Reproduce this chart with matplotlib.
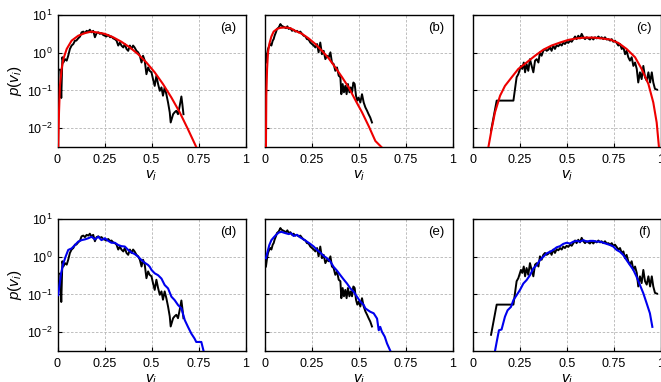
import numpy as np
import matplotlib
matplotlib.use("Agg")
import matplotlib.pyplot as plt
from matplotlib.ticker import LogLocator, NullLocator, FixedLocator

plt.rcParams['font.family'] = ['Liberation Sans', 'DejaVu Sans']
plt.rcParams['mathtext.fontset'] = 'custom'
plt.rcParams['mathtext.rm'] = 'Liberation Sans'
plt.rcParams['mathtext.it'] = 'Liberation Sans:italic'

# ---------------- data (log10 of p) ----------------
# empirical histogram, set A (panels a, d)
emp_a_v = [0.004, 0.015, 0.02, 0.026, 0.031, 0.04, 0.049, 0.057, 0.066, 0.075, 0.084, 0.093, 0.10, 0.11,
           0.12, 0.128, 0.137, 0.146, 0.155, 0.164, 0.172, 0.18, 0.19, 0.199, 0.208, 0.217, 0.225, 0.234,
           0.243, 0.252, 0.26, 0.27, 0.28, 0.287, 0.296, 0.305, 0.314, 0.323, 0.332, 0.34, 0.35, 0.358,
           0.367, 0.376, 0.385, 0.394, 0.402, 0.41, 0.42, 0.429, 0.438, 0.447, 0.455, 0.464, 0.473, 0.482,
           0.49, 0.50, 0.508, 0.517, 0.526, 0.535, 0.544, 0.553, 0.561, 0.57, 0.579, 0.588, 0.597, 0.602,
           0.615, 0.623, 0.632, 0.641, 0.65, 0.659, 0.664, 0.67]
emp_a_lp = [-0.45, -0.45, -1.2, -0.12, -0.26, -0.17, -0.21, -0.08, 0.10, 0.19, 0.23, 0.32, 0.32, 0.38,
            0.43, 0.54, 0.56, 0.52, 0.58, 0.56, 0.61, 0.54, 0.58, 0.41, 0.52, 0.54, 0.50, 0.52,
            0.47, 0.45, 0.43, 0.47, 0.41, 0.43, 0.38, 0.36, 0.32, 0.19, 0.27, 0.19, 0.14, 0.23,
            0.10, 0.05, 0.19, 0.10, 0.19, 0.14, 0.05, 0.01, -0.08, -0.26, -0.08, -0.21, -0.57, -0.39,
            -0.48, -0.52, -0.70, -0.88, -0.61, -0.83, -1.01, -0.92, -1.14, -0.92, -1.10, -1.32, -1.58, -1.85,
            -1.63, -1.58, -1.54, -1.63, -1.41, -1.16, -1.36, -1.63]

# empirical histogram, set B (panels b, e)
emp_b_v = [0.005, 0.011, 0.016, 0.023, 0.028, 0.034, 0.041, 0.046, 0.051, 0.058, 0.064, 0.073, 0.082, 0.087,
           0.094, 0.105, 0.112, 0.119, 0.126, 0.135, 0.144, 0.152, 0.161, 0.17, 0.179, 0.188, 0.197, 0.206,
           0.215, 0.223, 0.232, 0.241, 0.25, 0.259, 0.268, 0.277, 0.285, 0.294, 0.303, 0.312, 0.321, 0.33,
           0.339, 0.348, 0.356, 0.365, 0.374, 0.383, 0.392, 0.401, 0.406, 0.413, 0.42, 0.427, 0.434, 0.441,
           0.449, 0.456, 0.463, 0.47, 0.477, 0.484, 0.491, 0.498, 0.507, 0.516, 0.525, 0.534, 0.543, 0.551,
           0.56, 0.569]
emp_b_lp = [-0.26, -0.04, 0.10, 0.19, 0.23, 0.19, 0.32, 0.36, 0.45, 0.54, 0.63, 0.67, 0.76, 0.72,
            0.70, 0.67, 0.65, 0.70, 0.63, 0.65, 0.58, 0.61, 0.56, 0.58, 0.54, 0.56, 0.50, 0.45,
            0.43, 0.36, 0.35, 0.27, 0.23, 0.19, 0.14, 0.23, 0.01, 0.27, -0.04, 0.05, -0.17, -0.08,
            -0.12, 0.01, -0.26, -0.30, -0.48, -0.39, -0.61, -0.65, -1.10, -0.83, -1.05, -0.88, -1.10, -0.83,
            -1.05, -0.92, -1.05, -0.79, -0.83, -1.14, -1.27, -1.19, -1.32, -1.10, -1.32, -1.45, -1.54, -1.63,
            -1.72, -1.85]

# empirical histogram, set C (panels c, f)
emp_c_v = [0.096, 0.126, 0.215, 0.232, 0.241, 0.255, 0.262, 0.27, 0.277, 0.285, 0.294, 0.303, 0.312, 0.321,
           0.33, 0.339, 0.348, 0.356, 0.365, 0.374, 0.383, 0.392, 0.401, 0.41, 0.418, 0.427, 0.436, 0.445,
           0.454, 0.463, 0.472, 0.48, 0.489, 0.498, 0.507, 0.516, 0.525, 0.534, 0.543, 0.551, 0.56, 0.569,
           0.578, 0.587, 0.596, 0.605, 0.613, 0.622, 0.631, 0.64, 0.649, 0.658, 0.667, 0.676, 0.684, 0.693,
           0.702, 0.711, 0.72, 0.729, 0.738, 0.746, 0.755, 0.764, 0.773, 0.782, 0.791, 0.80, 0.809, 0.817,
           0.826, 0.835, 0.844, 0.853, 0.862, 0.871, 0.879, 0.888, 0.897, 0.906, 0.915, 0.924, 0.933, 0.942,
           0.951, 0.959, 0.968, 0.979]
emp_c_lp = [-2.07, -1.27, -1.27, -0.65, -0.57, -0.35, -0.43, -0.26, -0.52, -0.30, -0.48, -0.17, -0.35, -0.52,
            -0.21, -0.17, -0.26, 0.01, -0.08, 0.05, 0.10, 0.05, 0.08, 0.14, 0.05, 0.19, 0.10, 0.20,
            0.17, 0.23, 0.19, 0.27, 0.23, 0.29, 0.26, 0.32, 0.29, 0.36, 0.43, 0.36, 0.45, 0.38,
            0.50, 0.41, 0.36, 0.41, 0.38, 0.35, 0.41, 0.35, 0.41, 0.38, 0.43, 0.38, 0.41, 0.36,
            0.41, 0.35, 0.36, 0.32, 0.36, 0.29, 0.32, 0.26, 0.19, 0.23, 0.10, 0.14, -0.04, 0.05,
            -0.12, -0.21, -0.12, -0.35, -0.26, -0.43, -0.79, -0.52, -0.70, -0.35, -0.65, -0.74, -0.52, -0.79,
            -0.52, -0.79, -0.96, -0.98]

# fitted curves (red), panels a-c
fit_a_v = [0.004, 0.008, 0.013, 0.022, 0.031, 0.049, 0.075, 0.11, 0.146, 0.18, 0.208, 0.252, 0.296, 0.34,
           0.385, 0.429, 0.473, 0.517, 0.561, 0.606, 0.65, 0.694, 0.738]
fit_a_lp = [-2.5, -1.58, -0.88, -0.43, -0.17, 0.10, 0.32, 0.45, 0.52, 0.56, 0.54, 0.50, 0.41, 0.29,
            0.14, -0.04, -0.26, -0.52, -0.83, -1.19, -1.58, -2.03, -2.5]
fit_b_v = [0.005, 0.007, 0.011, 0.016, 0.023, 0.034, 0.046, 0.064, 0.082, 0.108, 0.135, 0.161, 0.197, 0.232,
           0.268, 0.303, 0.339, 0.374, 0.41, 0.445, 0.48, 0.516, 0.551, 0.587, 0.619]
fit_b_lp = [-2.5, -1.14, -0.43, 0.01, 0.23, 0.43, 0.56, 0.63, 0.66, 0.67, 0.65, 0.58, 0.50, 0.38,
            0.23, 0.05, -0.15, -0.39, -0.65, -0.92, -1.25, -1.58, -1.94, -2.34, -2.5]
fit_c_v = [0.082, 0.099, 0.117, 0.144, 0.17, 0.206, 0.241, 0.285, 0.33, 0.374, 0.418, 0.463, 0.507, 0.551,
           0.596, 0.64, 0.684, 0.729, 0.773, 0.817, 0.862, 0.897, 0.933, 0.959, 0.977, 0.989]
fit_c_lp = [-2.5, -2.03, -1.58, -1.14, -0.88, -0.65, -0.43, -0.26, -0.08, 0.08, 0.19, 0.27, 0.34, 0.38,
            0.40, 0.40, 0.38, 0.35, 0.26, 0.10, -0.12, -0.43, -0.83, -1.32, -1.85, -2.5]

# model curves (blue), panels d-f
mod_d_v = [0.004, 0.019, 0.031, 0.043, 0.057, 0.075, 0.093, 0.11, 0.128, 0.146, 0.164, 0.181, 0.199, 0.217,
           0.234, 0.252, 0.27, 0.287, 0.305, 0.323, 0.34, 0.358, 0.376, 0.394, 0.411, 0.429, 0.447, 0.464,
           0.482, 0.491, 0.50, 0.517, 0.535, 0.553, 0.57, 0.588, 0.606, 0.623, 0.641, 0.659, 0.677, 0.694,
           0.712, 0.729, 0.738, 0.756, 0.765, 0.777]
mod_d_lp = [-1.02, -0.44, -0.18, 0.0, 0.18, 0.22, 0.31, 0.40, 0.44, 0.46, 0.49, 0.53, 0.46, 0.53,
            0.44, 0.49, 0.42, 0.37, 0.37, 0.31, 0.28, 0.27, 0.18, 0.11, 0.07, 0.0, -0.09, -0.16,
            -0.22, -0.27, -0.35, -0.44, -0.49, -0.58, -0.75, -0.84, -1.06, -1.15, -1.28, -1.37, -1.68, -1.86,
            -2.04, -2.17, -2.26, -2.26, -2.26, -2.5]
mod_e_v = [0.005, 0.016, 0.023, 0.034, 0.046, 0.059, 0.073, 0.087, 0.099, 0.112, 0.126, 0.14, 0.152, 0.17,
           0.188, 0.206, 0.223, 0.241, 0.259, 0.277, 0.294, 0.312, 0.33, 0.348, 0.365, 0.383, 0.401, 0.418,
           0.436, 0.454, 0.472, 0.489, 0.507, 0.525, 0.534, 0.548, 0.56, 0.578, 0.596, 0.605, 0.613, 0.622,
           0.637, 0.649, 0.667]
mod_e_lp = [-0.04, 0.18, 0.31, 0.44, 0.51, 0.58, 0.64, 0.66, 0.64, 0.62, 0.60, 0.62, 0.55, 0.58,
            0.51, 0.46, 0.40, 0.34, 0.27, 0.18, 0.11, 0.02, -0.04, -0.13, -0.27, -0.37, -0.49, -0.60,
            -0.71, -0.84, -0.93, -1.06, -1.19, -1.28, -1.37, -1.42, -1.46, -1.50, -1.64, -1.95, -1.86, -1.99,
            -2.12, -2.30, -2.5]
mod_f_v = [0.117, 0.126, 0.138, 0.152, 0.17, 0.184, 0.202, 0.215, 0.232, 0.25, 0.268, 0.285, 0.303, 0.321,
           0.339, 0.356, 0.374, 0.392, 0.41, 0.427, 0.445, 0.463, 0.48, 0.498, 0.516, 0.534, 0.551, 0.569,
           0.587, 0.605, 0.622, 0.64, 0.658, 0.676, 0.693, 0.711, 0.729, 0.746, 0.764, 0.782, 0.80, 0.817,
           0.835, 0.853, 0.87, 0.888, 0.906, 0.924, 0.941, 0.954]
mod_f_lp = [-2.5, -2.26, -1.95, -1.93, -1.59, -1.42, -1.33, -1.15, -1.02, -0.88, -0.71, -0.62, -0.49, -0.31,
            -0.22, -0.09, 0.0, 0.09, 0.13, 0.18, 0.25, 0.28, 0.34, 0.37, 0.35, 0.40, 0.42, 0.40,
            0.44, 0.40, 0.42, 0.42, 0.40, 0.40, 0.37, 0.34, 0.31, 0.27, 0.18, 0.13, 0.04, -0.09,
            -0.22, -0.35, -0.53, -0.75, -0.97, -1.24, -1.50, -1.86]

panel_labels = ['(a)', '(b)', '(c)', '(d)', '(e)', '(f)']
xticks = [0, 0.25, 0.5, 0.75, 1]
xticklabels = ['0', '0.25', '0.5', '0.75', '1']

# ---------------- figure ----------------
W, H = 661, 382
fig = plt.figure(figsize=(W / 100, H / 100), dpi=100)

lefts = [57.5, 265, 473]
aw = 188
tops = [15, 219]
ah = 132

emp = [(emp_a_v, emp_a_lp), (emp_b_v, emp_b_lp), (emp_c_v, emp_c_lp)]
fits = [(fit_a_v, fit_a_lp), (fit_b_v, fit_b_lp), (fit_c_v, fit_c_lp)]
mods = [(mod_d_v, mod_d_lp), (mod_e_v, mod_e_lp), (mod_f_v, mod_f_lp)]

for r in range(2):
    for c in range(3):
        ax = fig.add_axes([lefts[c] / W, 1 - (tops[r] + ah) / H, aw / W, ah / H])
        ax.set_yscale('log')
        ax.set_xlim(0, 1)
        ax.set_ylim(10 ** -2.5, 10)
        ax.grid(True, which='major', linestyle=(0, (3, 2)), color='#b4b4b4', linewidth=0.6)
        ax.set_axisbelow(True)
        ev, elp = emp[c]
        ax.plot(ev, 10 ** np.array(elp), color='black', lw=1.4, zorder=3)
        if r == 0:
            fv, flp = fits[c]
            ax.plot(fv, 10 ** np.array(flp), color='#ee0000', lw=1.5, zorder=4)
        else:
            mv, mlp = mods[c]
            ax.plot(mv, 10 ** np.array(mlp), color='#0000ee', lw=1.5, zorder=4)
        ax.xaxis.set_major_locator(FixedLocator(xticks))
        ax.set_xticklabels(xticklabels)
        ax.yaxis.set_major_locator(FixedLocator([1e-2, 1e-1, 1e0, 1e1]))
        ax.yaxis.set_minor_locator(NullLocator())
        ax.tick_params(axis='both', direction='in', length=3, width=0.8, labelsize=9,
                       top=False, right=False)
        ax.tick_params(axis='x', pad=5)
        if c != 0:
            ax.set_yticklabels([])
        else:
            ax.set_ylabel(r'$p(v_i)$', fontsize=11, labelpad=2)
        ax.set_xlabel(r'$v_i$', fontsize=11, labelpad=2)
        for s in ax.spines.values():
            s.set_linewidth(1.0)
        ax.text(0.91, 0.9, panel_labels[r * 3 + c], transform=ax.transAxes,
                ha='center', va='center', fontsize=9.5)

fig.savefig('out.png', dpi=100)
